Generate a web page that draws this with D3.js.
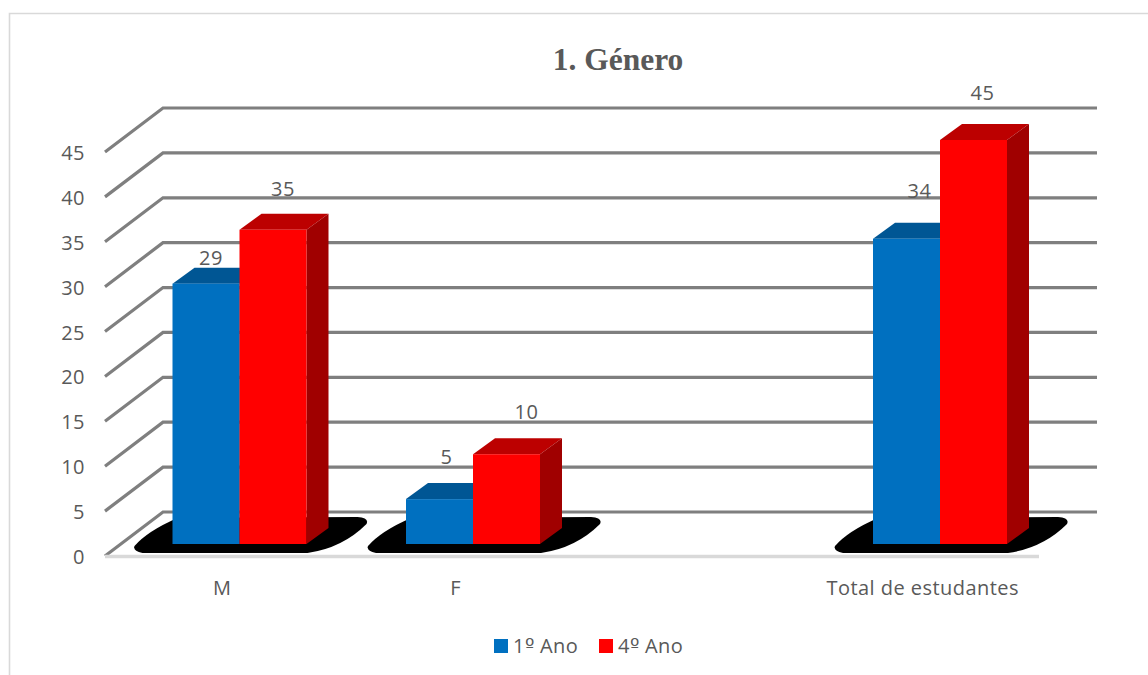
<!DOCTYPE html>
<html><head><meta charset="utf-8">
<script src="https://cdn.jsdelivr.net/npm/d3@7"></script>
<style>
@font-face{font-family:"Ord";src:local("DejaVu Sans");unicode-range:U+BA}
html,body{margin:0;padding:0;background:#fff}svg{display:block}text{font-family:"Ord","Open Sans","Noto Sans",sans-serif;fill:#595959;letter-spacing:.45px}</style>
</head><body><svg id="c" width="1148" height="675"></svg>
<script>
const chartTitle = "1. Género";
const categories = ["M","F","","Total de estudantes"];
const seriesNames = ["1º Ano","4º Ano"];
const ano1 = [29,5,null,34];
const ano4 = [35,10,null,45];
const yTicks = [0,5,10,15,20,25,30,35,40,45];
const colors = ["#0070C0","#FF0000"];
const topColors = ["#005694","#BC0000"];
const sideColors = ["#004F88","#A00000"];

const svg = d3.select("#c");
svg.append("path").attr("d","M9.5,675V13.5H1148").attr("fill","none").attr("stroke","#d9d9d9").attr("stroke-width",1.6);
svg.append("text").attr("x",618).attr("y",70).attr("text-anchor","middle")
  .style("font-family","'Liberation Serif',serif").style("font-weight","bold").style("font-size","31.5px").style("letter-spacing","0").style("fill","#595959").text(chartTitle);

const x = d3.scaleBand().domain(categories.map((d,i)=>i)).range([105,1039]);
const yFront = d3.scaleLinear().domain([0,45]).range([556,152]);
const backDx=58, backDy=-44;
const g = svg.append("g");
yTicks.forEach(t=>{
  const y0=yFront(t);
  g.append("path").attr("d",`M105,${y0}L${105+backDx},${y0+backDy}H${1039+backDx}`)
   .attr("fill","none").attr("stroke","#7f7f7f").attr("stroke-width",3.2).attr("stroke-linejoin","miter").attr("stroke-linecap","butt");
});
g.append("line").attr("x1",105).attr("x2",1039).attr("y1",556.5).attr("y2",556.5).attr("stroke","#d9d9d9").attr("stroke-width",3.5);

const barW=67, dDx=22, dDy=-16, baseLift=12;
const yBar = v=>yFront(v)-baseLift;
const barsStart = i=>x(i)+x.bandwidth()/2-barW+17.75;
categories.forEach((c,i)=>{
  if(ano1[i]==null) return;
  const l=barsStart(i);
  const p=(a,b)=>`${l+a},${b}`;
  svg.append("path").attr("fill","#000").attr("d",
    `M${p(-38,546)}Q${p(-25,531)} ${p(5,518)}L${p(185,517)}Q${p(197,518)} ${p(194,524)}Q${p(170,548)} ${p(135,553)}L${p(-30,553)}Q${p(-40,551)} ${p(-38,546)}Z`);
});
const series=[ano1,ano4];
const bars=svg.append("g");
categories.forEach((c,i)=>{
  if(ano1[i]==null) return;
  series.forEach((s,k)=>{
    const l=barsStart(i)+k*barW, r=l+barW, t=yBar(s[i]), b=yBar(0);
    const gg=bars.append("g");
    gg.append("path").attr("d",`M${l},${t}L${l+dDx},${t+dDy}H${r+dDx}L${r},${t}Z`).attr("fill",topColors[k]);
    gg.append("path").attr("d",`M${r},${t}L${r+dDx},${t+dDy}V${b+dDy}L${r},${b}Z`).attr("fill",sideColors[k]);
    gg.append("rect").attr("x",l).attr("y",t).attr("width",barW).attr("height",b-t).attr("fill",colors[k]);
  });
});
const labelShift=[[[5,-26],[10,-41]],[[7,-42],[20,-42]],null,[[13,-48],[9,-47]]];
const labs=svg.append("g").style("font-size","20px");
categories.forEach((c,i)=>{
  if(ano1[i]==null) return;
  series.forEach((s,k)=>{
    const l=barsStart(i)+k*barW, sh=labelShift[i][k];
    labs.append("text").attr("x",l+barW/2+sh[0]).attr("y",yBar(s[i])+sh[1]).attr("text-anchor","middle").attr("dy","0.35em").text(s[i]);
  });
});
yTicks.forEach(t=>{
  svg.append("text").attr("x",85).attr("y",yFront(t)+1).attr("dy","0.35em").attr("text-anchor","end").style("font-size","20px").text(t);
});
categories.forEach((c,i)=>{
  svg.append("text").attr("x",x(i)+x.bandwidth()/2+0.5).attr("y",588).attr("dy","0.35em").attr("text-anchor","middle").style("font-size","20px").text(c);
});
const lx=[494,599];
seriesNames.forEach((n,k)=>{
  svg.append("rect").attr("x",lx[k]).attr("y",639).attr("width",14).attr("height",14).attr("fill",colors[k]);
  svg.append("text").attr("x",lx[k]+19).attr("y",646).attr("dy","0.35em").style("font-size","20px").text(n);
});
</script></body></html>
